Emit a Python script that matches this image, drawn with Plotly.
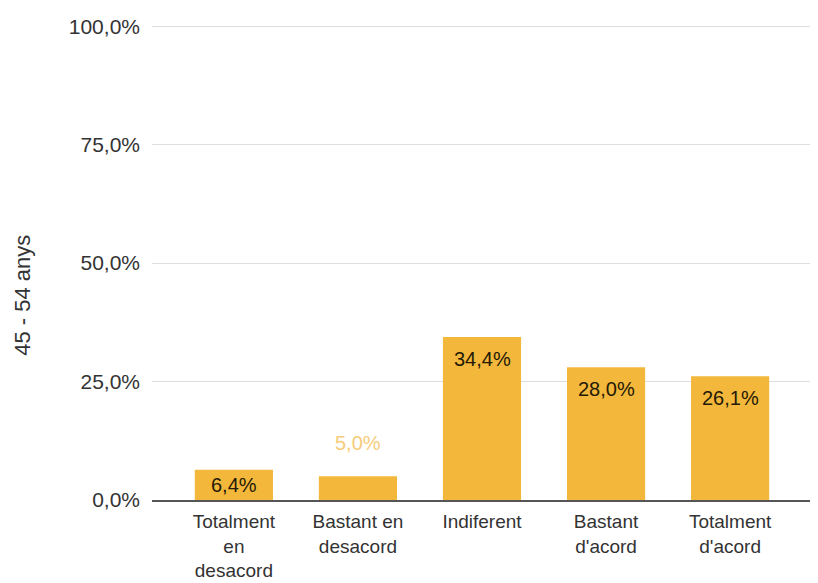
import plotly.graph_objects as go

categories = ["Totalment<br>en<br>desacord", "Bastant en<br>desacord", "Indiferent",
              "Bastant<br>d'acord", "Totalment<br>d'acord"]
values = [6.4, 5.0, 34.4, 28.0, 26.1]
inside = [True, False, True, True, True]
y_ticks = [0, 25, 50, 75, 100]
y_ticktext = [f"{v:.1f}".replace(".", ",") + "%" for v in y_ticks]

bar_color = "#F3B73B"
font_family = "Liberation Sans, Arial, sans-serif"

# the page body adds an 8px offset, so the figure is drawn 8px smaller
W, H = 810, 575
M_L, M_R, M_T, M_B = 144, 6, 17, 83
Y_MAX = 100.25
px_per_unit = (H - M_T - M_B) / Y_MAX

fig = go.Figure()
fig.add_trace(go.Bar(
    x=categories, y=values,
    marker=dict(color=bar_color, line=dict(width=0)),
    width=0.63,
    hoverinfo="skip",
))

for cat, v, ins in zip(categories, values, inside):
    label = f"{v:.1f}".replace(".", ",") + "%"
    if ins:
        shift = -min(22, 0.5 * v * px_per_unit)
        color = "#241a05"
    else:
        shift = 33
        color = "#F6CC7A"
    fig.add_annotation(
        x=cat, y=v, text=label, showarrow=False, yshift=shift,
        font=dict(family=font_family, size=20, color=color),
    )

fig.add_annotation(
    xref="paper", yref="paper", x=0, y=0.43, xshift=-129,
    xanchor="center", yanchor="middle",
    text="45 - 54 anys", textangle=-90, showarrow=False,
    font=dict(family=font_family, size=22, color="#333333"),
)

fig.update_layout(
    width=W, height=H,
    margin=dict(l=M_L, r=M_R, t=M_T, b=M_B),
    paper_bgcolor="white", plot_bgcolor="white",
    showlegend=False,
    font=dict(family=font_family, size=19, color="#333333"),
    xaxis=dict(
        range=[-0.66, 4.66], automargin=False,
        showline=True, linecolor="#555555", linewidth=2,
        ticks="", tickfont=dict(size=19, color="#333333"),
        ticklabelstandoff=3,
        showgrid=False,
    ),
    yaxis=dict(
        range=[0, Y_MAX], tickvals=y_ticks, ticktext=y_ticktext,
        automargin=False,
        showgrid=True, gridcolor="#dedede", gridwidth=1,
        zeroline=False, showline=False,
        tickfont=dict(size=21, color="#333333"),
        ticklabelstandoff=11,
    ),
)

fig.write_html("out.html")
